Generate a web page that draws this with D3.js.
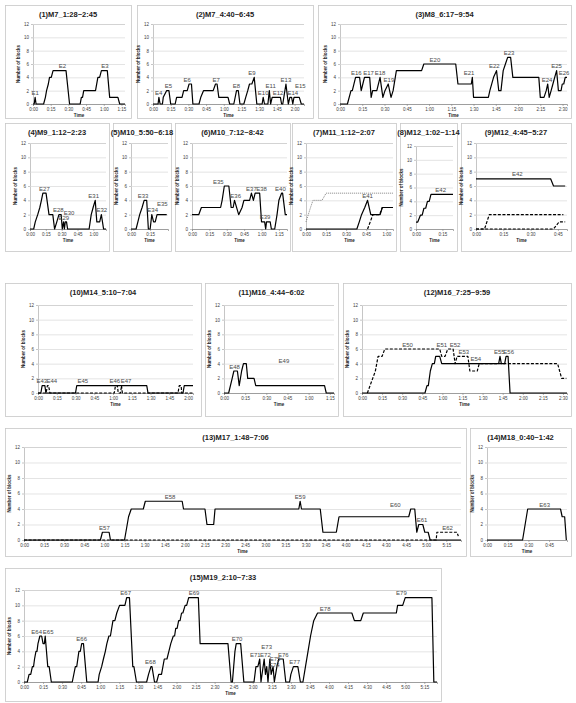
<!DOCTYPE html>
<html>
<head>
<meta charset="utf-8">
<script src="https://cdn.jsdelivr.net/npm/d3@7"></script>
<style>
body { margin: 0; background: #fff; }
svg { display: block; }
text { font-family: "Liberation Sans", Arial, sans-serif; }
</style>
</head>
<body>
<svg id="chart" width="576" height="703"></svg>
<script>
// ****** Data: [minute, number of blocks]
var p1Solid = [[0,0],[1,0],[1.8,1],[2.6,0],[9,0],[10.5,1],[11.5,2],[13,3],[14,4],[15.5,4],[17,5],[28,5],[31,0],[40,0],[41,1],[42,1],[43,2],[53,2],[55,4],[56.5,4],[58,5],[63,5],[65,1],[72,1],[73.5,0],[78,0]];
var p1Labels = [["E1",1.8,1],["E2",25,5],["E3",61,5]];

var p2Solid = [[0,0],[4.3,0],[5,1],[6,0],[8,0],[8.7,1],[11.5,2],[13.5,2],[15,0],[18.8,0],[20,1],[24.6,1],[26,2],[29,2],[30.6,3],[32.6,3],[33.8,0],[39,0],[40.5,1],[42.8,2],[51,2],[53,3],[54.3,3],[55.8,1],[63.6,1],[65,0],[68.5,0],[70.8,2],[72.3,2],[73.7,0],[77,0],[78.6,1],[80.3,2],[81.8,3],[83.8,3],[85.8,4],[88,0],[92.5,0],[93.4,1],[94.5,0],[97.4,0],[98.6,2],[99.7,0],[101,1],[108,1],[109,0],[110,0],[112.7,3],[114.7,0],[116,1],[117.5,1],[118.5,0],[119.5,1],[124,1],[125.7,0],[128,0]];
var p2Labels = [["E4",4.9,1],["E5",13,2],["E6",29,3],["E7",53.5,3],["E8",70.8,2],["E9",83.8,4],["E10",93.4,1],["E11",99.7,2],["E12",106,1],["E13",112.7,3],["E14",118.5,1],["E15",124.9,2]];

var p3Solid = [[0,0],[5,0],[7.4,2],[8.3,2],[10.5,4],[13.2,4],[14.3,2],[15.4,3],[16.5,4],[20,4],[21,1],[22,2],[24.8,2],[27,4],[28.9,1],[30.3,2],[32.5,3],[34.4,1],[35.8,2],[38,5],[55,5],[56.5,6],[78,6],[79.5,3],[88.5,3],[89.2,4],[90,1],[100,1],[101,2],[103.5,4],[105.5,5],[107,2],[108.5,2],[110,5],[111.5,6],[113,7],[115,7],[116.5,4],[134,4],[135,1],[137.5,1],[139,2],[140,3],[141,1],[142.3,2],[143.5,3],[144.7,4],[146,5],[147.2,2],[149,2],[149.8,3],[150.8,3],[151.8,4],[153,4]];
var p3Labels = [["E16",11,4],["E17",19.3,4],["E18",27,4],["E19",33,3],["E20",64,6],["E21",87,4],["E22",104,5],["E23",114,7],["E24",139.5,3],["E25",146,5],["E26",151,4]];

var p4Solid = [[0,0],[3.5,0],[5,1],[7.3,2],[9.3,3],[10.8,4],[12.2,5],[15.2,5],[18,2],[21.6,2],[23.3,0],[25.4,1],[27.4,2],[29.5,2],[30.6,0],[31.8,1],[32.6,0],[33.4,1],[34.6,1],[35.6,0],[56,0],[58,2],[59.8,3],[61.8,4],[63.3,1],[66,1],[67.6,2],[69.7,0],[72,0]];
var p4Labels = [["E27",13.7,5],["E28",26.8,2],["E29",32,0.9],["E30",37,1.6],["E31",60.3,4],["E32",68,2]];

var p5Solid = [[0,0],[4,0],[5.4,1],[6.8,2],[8.7,3],[10.3,4],[12.3,4],[13.6,0],[15,0],[16.3,2],[17.7,1],[19,1],[20.4,2],[28,2]];
var p5Labels = [["E33",9.5,4],["E34",17,2],["E35",24.5,2.8]];

var p6Solid = [[0,2],[5.8,2],[8.1,3],[24.7,3],[26,4],[27.9,6],[31.8,6],[33.8,3],[35.5,3],[36.7,4],[40.3,2],[43.2,3],[44.8,4],[49.7,4],[51.3,5],[53,4],[54.5,5],[58.4,5],[60,1],[62.7,1],[63.6,0],[64.3,1],[67.5,1],[68.5,0],[71.4,0],[73.4,2],[75,4],[77.3,5],[78.2,5],[80.5,2],[82,2]];
var p6Labels = [["E35",22.7,6],["E36",37.7,4],["E37",51.3,5],["E38",60,5],["E39",63,1],["E40",76.3,5]];

var p7Solid = [[0,0],[38,0],[39.8,1],[41.5,2],[43.9,3],[46,4],[48.4,2],[55.4,2],[57,3],[65,3]];
var p7Dash = [[46,0],[48,1],[50,2],[55,2],[57,3],[65,3]];
var p7Dot = [[0,1],[1.7,2],[3.4,3],[5.2,4],[12,4],[15,5],[65,5]];
var p7Labels = [["E41",46,4]];

var p8Solid = [[0,1],[1,1],[2.5,2],[3.5,2],[4.5,3],[5.5,3],[6.5,4],[7.5,4],[8.5,5],[21,5]];
var p8Labels = [["E42",14,5]];

var p9Solid = [[0,7],[41,7],[42.6,6],[49,6]];
var p9Dash = [[0,0],[4.7,0],[7.3,2],[48,2]];
var p9Dash2 = [[0,0],[42.6,0],[45.7,1],[49,1]];
var p9Labels = [["E42",22.7,7]];

var p10Solid = [[0,0],[2.3,0],[3.3,1],[5.5,1],[6.3,0],[30,0],[31,1],[87,1],[88,0],[116,0],[117,1],[124,1]];
var p10Dash = [[0,0],[6.5,0],[7.5,1],[8.5,1],[9.5,0],[61,0],[62,1],[63.5,1],[64.2,0],[66,0],[66.8,1],[67.5,0],[112,0],[113,1],[114.5,1],[115,0],[124,0]];
var p10Labels = [["E43",3,1],["E44",11,1],["E45",35.8,1],["E46",61.5,1],["E47",70.5,1]];

var p11Solid = [[0,0],[3.3,0],[5.8,2],[7,3],[9.5,3],[10.8,1],[12.5,3],[13.8,4],[15.8,4],[16.8,2],[21.3,2],[22.5,1],[71.3,1],[72.5,0],[78,0]];
var p11Labels = [["E48",7.5,3],["E49",42.5,3.8]];

var p12Solid = [[0,0],[47,0],[48.5,1],[49.5,1],[51,3],[52.5,4],[54,4],[55,5],[58,5],[59.5,4],[102,4],[103,5],[104,4],[106.5,4],[107.5,5],[109,5],[110.5,0],[153,0]];
var p12Dash = [[4,0],[6,1],[8,2],[10,3],[12,5],[15,5],[17,6],[58,6],[59.5,5],[62,5],[64,6],[68,6],[69.5,4],[71,5],[79,5],[80.5,3],[86,3],[87.5,4],[146,4],[149,2],[152.5,2]];
var p12Labels = [["E50",34,6],["E51",59.5,6],["E52",69.5,6],["E53",76,5],["E54",85,4],["E55",102.5,5],["E56",109.5,5]];

var p13Solid = [[0,0],[57,0],[58.5,1],[63.5,1],[64.5,0],[75,0],[77,2],[78,3],[80,4],[89,4],[90.5,5],[118,5],[119,4],[135,4],[136.5,2],[141.5,2],[142.5,4],[205,4],[206,5],[207,4],[221,4],[223,1],[233,1],[235,3],[287,3],[288.5,4],[291.5,4],[293,1],[294.5,2],[297.5,2],[299,1],[301.5,1],[303,0],[326,0]];
var p13Dash = [[0,0],[307.5,0],[308,1],[323,1],[324,0.5]];
var p13Labels = [["E57",60,1],["E58",109,5],["E59",206,5],["E60",277,3.9],["E61",297,2],["E62",316,1]];

var p14Solid = [[0,0],[25.8,0],[29.5,4],[53.3,4],[54.5,3],[56.3,3],[57.5,0]];
var p14Labels = [["E63",41.8,4]];

var p15Solid = [[0,0],[2.6,0],[4,1],[5.3,1],[6.6,2],[7.5,2],[8.3,3],[9.4,4],[10.2,4],[11,5],[12.5,6],[13.9,6],[15,5],[16,5],[16.7,6],[18.7,2],[19.8,2],[21.5,0],[38,0],[40.4,2],[41.5,2],[43.2,4],[44.3,4],[45.4,5],[46.8,5],[49.4,0],[58.3,0],[59.2,1],[61.1,2],[62.5,3],[64,4],[65.2,5],[66.8,6],[68,6],[70,8],[71.5,8],[73,9],[75.2,10],[79.4,10],[80.8,11],[83,11],[85.6,2],[86.5,2],[88.5,0],[96.5,0],[98,1],[99.9,2],[100.7,2],[102.7,0],[104.4,0],[106,1],[108.2,1],[110.4,3],[112.5,3],[114,4],[115.5,5],[117.5,6],[118.5,6],[119.4,7],[120.5,7],[121.7,8],[122.8,8],[124,9],[125,9],[126.8,10],[128,10],[129.6,11],[137.2,11],[138.6,5],[160.5,5],[163,0],[164,0],[165,2],[166,4],[167,5],[170.5,5],[173,0],[181,0],[182.5,2],[184,2],[185.5,3],[186.5,0],[189,3],[190,1],[191,2],[192,0],[193.5,3],[194.5,1],[196,2],[197,0],[199,2],[200.5,3],[204,3],[206,0],[209,0],[210,1],[212,2],[215.5,2],[217.5,0],[219.5,0],[221.5,2],[223.5,4],[225.5,6],[228,8],[231,9],[258,9],[260,8],[265,8],[267,9],[293,9],[294,10],[298,10],[300,11],[321,11],[322.5,0],[325,0]];
var p15Labels = [["E64",10,6],["E65",19,6],["E66",45.4,5],["E67",80,11],["E68",99.5,2],["E69",133.8,11],["E70",167.6,5],["E71",182,3],["E72",190,3],["E73",191,4],["E74",197,1.6],["E75",197.5,2.4],["E76",204,3],["E77",213,2],["E78",237,9],["E79",297,11]];

var yTickValues = [0,2,4,6,8,10,12];

// ****** Layout: box [x,y,w,h], plot [left,right,top(12),bottom(0)]
var panels = [
	{title:"(1)M7_1:28~2:45",   box:[5,5,126,113],   plot:[33,125,24,104],  maxMin:78,  series:[[p1Solid,"solid"]], labels:p1Labels},
	{title:"(2)M7_4:40~6:45",   box:[137,5,176,113], plot:[153,304,24,104], maxMin:128, series:[[p2Solid,"solid"]], labels:p2Labels},
	{title:"(3)M8_6:17~9:54",   box:[318,5,253,113], plot:[340,567,24,104], maxMin:153, series:[[p3Solid,"solid"]], labels:p3Labels},
	{title:"(4)M9_1:12~2:23",   box:[5,123,104,128], plot:[30,106,143,229], maxMin:72,  series:[[p4Solid,"solid"]], labels:p4Labels},
	{title:"(5)M10_5:50~6:18",  box:[113,123,58,128], plot:[131,168,143,229], maxMin:29, series:[[p5Solid,"solid"]], labels:p5Labels},
	{title:"(6)M10_7:12~8:42",  box:[175,123,115,128], plot:[192,287,143,229], maxMin:82, series:[[p6Solid,"solid"]], labels:p6Labels},
	{title:"(7)M11_1:12~2:07",  box:[292,123,104,128], plot:[306,393,143,229], maxMin:65, series:[[p7Dot,"dot"],[p7Dash,"dash"],[p7Solid,"solid"]], labels:p7Labels},
	{title:"(8)M12_1:02~1:14",  box:[400,123,57,128], plot:[416,453,146,229], maxMin:21, series:[[p8Solid,"solid"]], labels:p8Labels},
	{title:"(9)M12_4:45~5:27",  box:[461,123,110,128], plot:[476,567,143,229], maxMin:50, series:[[p9Dash,"dash"],[p9Dash2,"dash"],[p9Solid,"solid"]], labels:p9Labels},
	{title:"(10)M14_5:10~7:04", box:[5,283,196,133], plot:[38,193,305,393], maxMin:124, series:[[p10Solid,"solid"],[p10Dash,"dash"]], labels:p10Labels},
	{title:"(11)M16_4:44~6:02", box:[205,283,133,133], plot:[224,334,305,393], maxMin:78, series:[[p11Solid,"solid"]], labels:p11Labels},
	{title:"(12)M16_7:25~9:59", box:[343,283,228,133], plot:[362,567,305,393], maxMin:153, series:[[p12Solid,"solid"],[p12Dash,"dash"]], labels:p12Labels},
	{title:"(13)M17_1:48~7:06", box:[5,428,461,128], plot:[24,461,447,540], maxMin:326, series:[[p13Solid,"solid"],[p13Dash,"dash"]], labels:p13Labels},
	{title:"(14)M18_0:40~1:42", box:[470,428,101,128], plot:[487,567,447,540], maxMin:58, series:[[p14Solid,"solid"]], labels:p14Labels},
	{title:"(15)M19_2:10~7:33", box:[5,568,436,133], plot:[24,437,590,682], maxMin:325, series:[[p15Solid,"solid"]], labels:p15Labels}
];

var svg = d3.select('#chart');

function fmtTime(m) {
	return Math.floor(m/60) + ':' + String(m%60).padStart(2,'0');
}

function drawPanel(p) {
	var bx = p.box[0], by = p.box[1], bw = p.box[2], bh = p.box[3];
	var x0 = p.plot[0], x1 = p.plot[1], yTop = p.plot[2], yBot = p.plot[3];
	var g = svg.append('g');

	g.append('rect')
		.attr('x',bx+0.5).attr('y',by+0.5)
		.attr('width',bw).attr('height',bh)
		.attr('fill','#fff').attr('stroke','#c8c8c8').attr('stroke-width',0.8);

	g.append('text')
		.attr('x',bx+bw/2).attr('y',by+12)
		.attr('text-anchor','middle')
		.style('font-size','7.5px').style('font-weight','bold').attr('fill','#222')
		.text(p.title);

	var x = d3.scaleLinear().domain([0,p.maxMin]).range([x0,x1]);
	var y = d3.scaleLinear().domain([0,12]).range([yBot,yTop]);

	// y axis with grid lines
	var yAxis = d3.axisLeft(y).tickValues(yTickValues).tickSize(-(x1-x0)).tickPadding(4);
	var ya = g.append('g').attr('transform','translate('+x0+',0)').call(yAxis);
	ya.select('.domain').attr('stroke','#a0a0a0').attr('stroke-width',0.6);
	ya.selectAll('.tick line').attr('stroke','#d9d9d9').attr('stroke-width',0.7);
	ya.selectAll('.tick text').style('font-size','4.5px').attr('fill','#404040')
		.style('font-family','"Liberation Sans", Arial, sans-serif');
	ya.selectAll('.tick').append('line')
		.attr('x1',-2).attr('x2',0).attr('stroke','#a0a0a0').attr('stroke-width',0.6);

	// x axis
	var xAxis = d3.axisBottom(x).tickValues(d3.range(0,p.maxMin+0.01,15))
		.tickFormat(fmtTime).tickSize(2).tickPadding(1.5);
	var xa = g.append('g').attr('transform','translate(0,'+yBot+')').call(xAxis);
	xa.select('.domain').attr('stroke','#868686').attr('stroke-width',0.7);
	xa.selectAll('.tick line').attr('stroke','#868686').attr('stroke-width',0.6);
	xa.selectAll('.tick text').style('font-size','4.5px').attr('fill','#404040')
		.style('font-family','"Liberation Sans", Arial, sans-serif');

	g.append('text')
		.attr('x',(x0+x1)/2).attr('y',yBot+13)
		.attr('text-anchor','middle')
		.style('font-size','4.5px').style('font-weight','bold').attr('fill','#222')
		.text('Time');
	g.append('text')
		.attr('transform','translate('+(x0-13)+','+((yTop+yBot)/2)+') rotate(-90)')
		.attr('text-anchor','middle')
		.style('font-size','4.5px').style('font-weight','bold').attr('fill','#222')
		.text('Number of blocks');

	var line = d3.line().x(function(d){return x(d[0]);}).y(function(d){return y(d[1]);});
	p.series.forEach(function(s) {
		var path = g.append('path').datum(s[0]).attr('d',line)
			.attr('fill','none').attr('stroke-linejoin','round');
		if (s[1] == 'solid') path.attr('stroke','#000').attr('stroke-width',1.2);
		if (s[1] == 'dash') path.attr('stroke','#000').attr('stroke-width',1.2).attr('stroke-dasharray','3,1.6');
		if (s[1] == 'dot') path.attr('stroke','#808080').attr('stroke-width',1).attr('stroke-dasharray','1,1');
	});

	g.selectAll('.elabel').data(p.labels).enter().append('text')
		.attr('x',function(d){return x(d[1]);})
		.attr('y',function(d){return y(d[2])-2.5;})
		.attr('text-anchor','middle')
		.style('font-size','6px').attr('fill','#4a4a4a')
		.text(function(d){return d[0];});
}

panels.forEach(drawPanel);
</script>
</body>
</html>
